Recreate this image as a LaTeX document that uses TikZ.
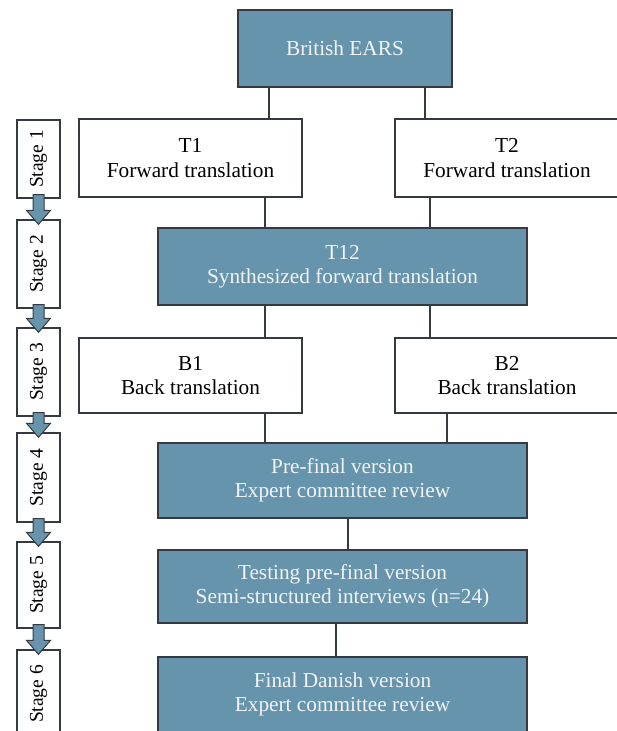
\documentclass[tikz,border=0pt]{standalone}
\usepackage{fontspec}
\setmainfont{Liberation Serif}
\usetikzlibrary{calc}
\definecolor{boxblue}{RGB}{102,148,172}
\definecolor{edge}{RGB}{52,58,64}
\definecolor{paletext}{RGB}{242,244,246}
\tikzset{
  box/.style={draw=edge, line width=1.6pt, rectangle, inner sep=0pt, align=center,
    font=\fontsize{21.3}{24.5}\selectfont},
  bluebox/.style={box, fill=boxblue, text=paletext},
  whitebox/.style={box, fill=white, text=black},
  stagebox/.style={draw=edge, line width=1.3pt, fill=white, rectangle, inner sep=0pt,
    minimum height=43pt, rotate=90, font=\fontsize{19.5}{22}\selectfont},
  link/.style={draw=edge, line width=1.8pt},
  stagearrow/.style={draw=edge, line width=1pt, fill=boxblue, line join=miter}
}
\begin{document}
\begin{tikzpicture}[x=1pt,y=-1pt]
\useasboundingbox (0,0) rectangle (617,731);

% main boxes
\node[bluebox, minimum width=214pt, minimum height=77pt] (ears) at (345,48.5) {British EARS};
\node[whitebox, minimum width=223pt, minimum height=78pt] (t1) at (190.5,158) {T1\\Forward translation};
\node[whitebox, minimum width=224pt, minimum height=78pt] (t2) at (507,158) {T2\\Forward translation};
\node[bluebox, minimum width=369pt, minimum height=77pt] (t12) at (342.5,266.5) {T12\\Synthesized forward translation};
\node[whitebox, minimum width=223pt, minimum height=75pt] (b1) at (190.5,375.5) {B1\\Back translation};
\node[whitebox, minimum width=224pt, minimum height=75pt] (b2) at (507,375.5) {B2\\Back translation};
\node[bluebox, minimum width=369pt, minimum height=75pt] (pre) at (342.5,480.5) {Pre-final version\\Expert committee review};
\node[bluebox, minimum width=369pt, minimum height=73pt] (test) at (342.5,586.5) {Testing pre-final version\\Semi-structured interviews (n=24)};
\node[bluebox, minimum width=369pt, minimum height=75pt] (final) at (342.5,694.5) {Final Danish version\\Expert committee review};

% connectors
\draw[link] ($(ears.south west)+(32,0)$) coordinate (c1) -- (c1 |- t1.north);
\draw[link] ($(ears.south west)+(188,0)$) coordinate (c2) -- (c2 |- t2.north);
\draw[link] ($(t1.south west)+(187,0)$) coordinate (c3) -- (c3 |- t12.north);
\draw[link] ($(t2.south west)+(36,0)$) coordinate (c4) -- (c4 |- t12.north);
\draw[link] ($(t12.south west)+(108,0)$) coordinate (c5) -- (c5 |- b1.north);
\draw[link] ($(t12.south west)+(273,0)$) coordinate (c6) -- (c6 |- b2.north);
\draw[link] ($(b1.south west)+(187,0)$) coordinate (c7) -- (c7 |- pre.north);
\draw[link] ($(b2.south west)+(53,0)$) coordinate (c8) -- (c8 |- pre.north);
\draw[link] ($(pre.south west)+(191,0)$) coordinate (c9) -- (c9 |- test.north);
\draw[link] ($(test.south west)+(179,0)$) coordinate (c10) -- (c10 |- final.north);

% stage boxes (rotated: minimum width runs vertically after rotation)
\node[stagebox, minimum width=78pt] (s1) at (38.5,159) {Stage 1};
\node[stagebox, minimum width=88pt] (s2) at (38.5,264) {Stage 2};
\node[stagebox, minimum width=88pt] (s3) at (38.5,372) {Stage 3};
\node[stagebox, minimum width=89pt] (s4) at (38.5,477.5) {Stage 4};
\node[stagebox, minimum width=86pt] (s5) at (38.5,585) {Stage 5};
\node[stagebox, minimum width=88pt] (s6) at (38.5,694) {Stage 6};

% stage arrows
\foreach \a/\b in {s1/s2,s2/s3,s3/s4,s4/s5,s5/s6}{
  \draw[stagearrow]
    ($(\a.west)+(-5.5,-4)$) -- ($(\b.east)+(-5.5,-9)$) -- ($(\b.east)+(-12,-9)$) --
    ($(\b.east)+(0,5)$) -- ($(\b.east)+(12,-9)$) -- ($(\b.east)+(5.5,-9)$) --
    ($(\a.west)+(5.5,-4)$) -- cycle;
}
\end{tikzpicture}
\end{document}
